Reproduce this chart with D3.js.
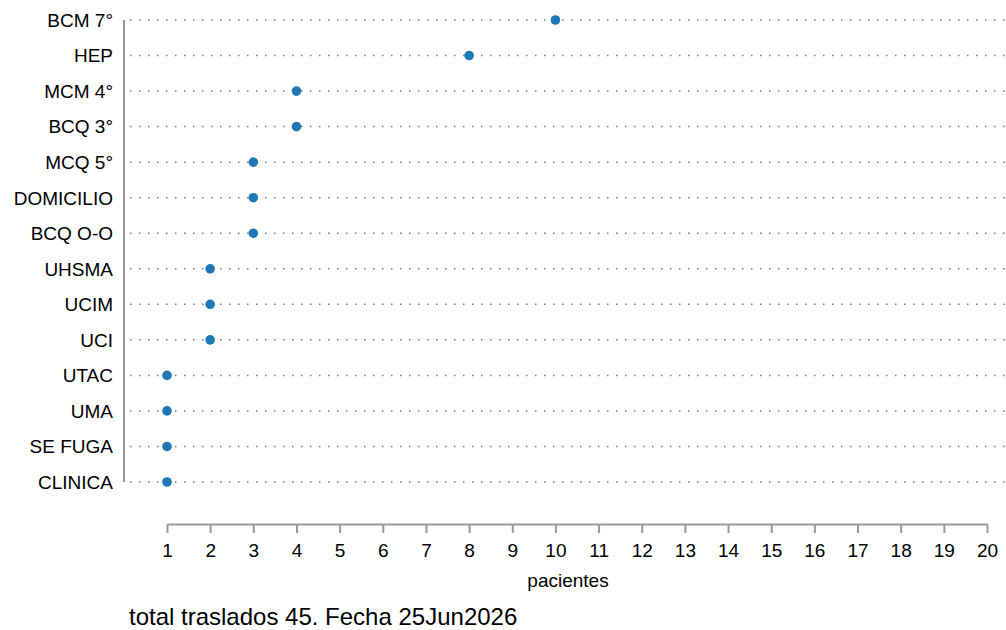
<!DOCTYPE html>
<html><head><meta charset="utf-8">
<script src="https://cdn.jsdelivr.net/npm/d3@7"></script>
<style>body{margin:0;background:#fff}svg{display:block;font-family:"Liberation Sans",Arial,sans-serif}</style>
</head><body>
<svg id="c" width="1006" height="630"></svg>
<script>
const categories = ["BCM 7°","HEP","MCM 4°","BCQ 3°","MCQ 5°","DOMICILIO","BCQ O-O","UHSMA","UCIM","UCI","UTAC","UMA","SE FUGA","CLINICA"];
const values = [10,8,4,4,3,3,3,2,2,2,1,1,1,1];
const xTicks = d3.range(1,21);
const xTitle = "pacientes";
const footer = "total traslados 45. Fecha 25Jun2026";

const svg = d3.select("#c");
const x = d3.scaleLinear().domain([1,20]).range([167,987]);
const y = d3.scalePoint().domain(categories).range([20,482]);

// dotted guide lines
svg.append("g").selectAll("line").data(categories).join("line")
  .attr("x1",130).attr("x2",1006)
  .attr("y1",d=>y(d)).attr("y2",d=>y(d))
  .attr("stroke","#777").attr("stroke-width",1.5)
  .attr("stroke-dasharray","1.5,7.5");

// y axis line
svg.append("line").attr("x1",124).attr("x2",124).attr("y1",y(categories[0])).attr("y2",y(categories[categories.length-1]))
  .attr("stroke","#999").attr("stroke-width",2);

// y labels
svg.append("g").selectAll("text").data(categories).join("text")
  .attr("x",113).attr("y",d=>y(d)).attr("dy","0.36em")
  .attr("text-anchor","end").attr("font-size",19).attr("fill","#000").text(d=>d);

// points
svg.append("g").selectAll("circle").data(categories).join("circle")
  .attr("cx",(d,i)=>x(values[i])).attr("cy",d=>y(d)).attr("r",4.8).attr("fill","#1f77b4");

// x axis
const ax = svg.append("g").attr("transform","translate(0,524)")
  .call(d3.axisBottom(x).tickValues(xTicks).tickSize(9).tickSizeOuter(0).tickPadding(11).tickFormat(d3.format("d")));
ax.select(".domain").attr("stroke","#999").attr("stroke-width",2);
ax.selectAll(".tick line").attr("stroke","#999").attr("stroke-width",2);
ax.selectAll(".tick text").attr("font-size",19).attr("fill","#000").attr("font-family","Liberation Sans, Arial, sans-serif");

svg.append("text").attr("x",568).attr("y",587).attr("text-anchor","middle")
  .attr("font-size",19).attr("fill","#000").text(xTitle);

svg.append("text").attr("x",129).attr("y",625).attr("font-size",24).attr("fill","#000").text(footer);
</script>
</body></html>
